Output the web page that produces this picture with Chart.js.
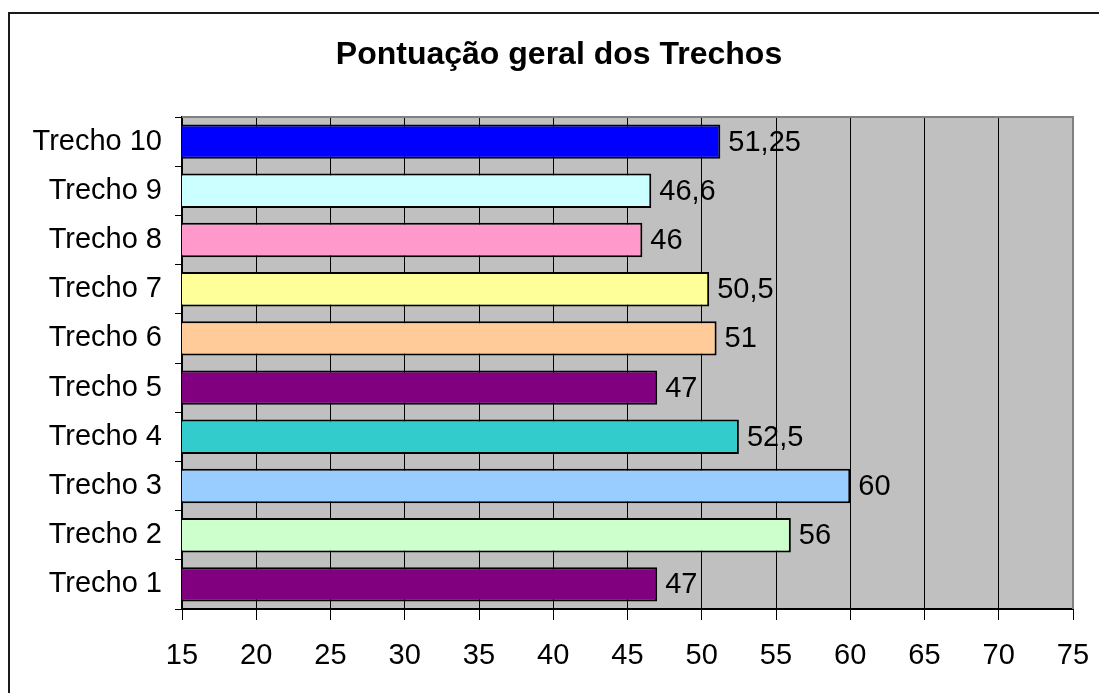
<!DOCTYPE html>
<html>
<head>
<meta charset="utf-8">
<script src="https://cdn.jsdelivr.net/npm/chart.js@4/dist/chart.umd.min.js"></script>
<style>
  html, body { margin: 0; padding: 0; background: #ffffff; }
  #wrap { width: 1099px; height: 693px; }
</style>
</head>
<body>
<div id="wrap"><canvas id="c" width="1099" height="693"></canvas></div>
<script>
// Pontuação por trecho
const categories = ['Trecho 1', 'Trecho 2', 'Trecho 3', 'Trecho 4', 'Trecho 5',
                    'Trecho 6', 'Trecho 7', 'Trecho 8', 'Trecho 9', 'Trecho 10'];
const scores = [47, 56, 60, 52.5, 47, 51, 50.5, 46, 46.6, 51.25];
const barColors = ['#800080', '#CCFFCC', '#99CCFF', '#33CCCC', '#800080',
                   '#FFCC99', '#FFFF99', '#FF99CC', '#CCFFFF', '#0000FF'];
const xTicks = [15, 20, 25, 30, 35, 40, 45, 50, 55, 60, 65, 70, 75];
const titleText = 'Pontuação geral dos Trechos';

const FONT = 'Arial, "Liberation Sans", sans-serif';

// Outer frame, plot background and plot frame
const framePlugin = {
  id: 'frame',
  beforeDraw(chart) {
    const { ctx, chartArea: a } = chart;
    ctx.save();
    ctx.fillStyle = '#ffffff';
    ctx.fillRect(0, 0, chart.width, chart.height);
    ctx.strokeStyle = '#1a1a1a';
    ctx.lineWidth = 2;
    ctx.strokeRect(9, 13, chart.width + 20, chart.height + 20);
    ctx.fillStyle = '#C0C0C0';
    ctx.fillRect(a.left, a.top, a.right - a.left, a.bottom - a.top);
    ctx.restore();
  },
  afterDatasetsDraw(chart) {
    const { ctx, chartArea: a } = chart;
    ctx.save();
    ctx.strokeStyle = '#808080';
    ctx.lineWidth = 2;
    ctx.beginPath();
    ctx.moveTo(a.left, a.top);
    ctx.lineTo(a.right, a.top);
    ctx.lineTo(a.right, a.bottom);
    ctx.stroke();
    ctx.restore();
  },
  afterDraw(chart) {
    const { ctx } = chart;
    ctx.save();
    ctx.fillStyle = '#000000';
    ctx.font = 'bold 32px ' + FONT;
    ctx.textAlign = 'center';
    ctx.textBaseline = 'middle';
    ctx.fillText(titleText, 559, 55);
    ctx.restore();
  }
};

// Value labels at the end of each bar, with decimal comma
const valueLabels = {
  id: 'valueLabels',
  afterDatasetsDraw(chart) {
    const { ctx } = chart;
    const meta = chart.getDatasetMeta(0);
    ctx.save();
    ctx.fillStyle = '#000000';
    ctx.font = '29px ' + FONT;
    ctx.textAlign = 'left';
    ctx.textBaseline = 'middle';
    meta.data.forEach((bar, i) => {
      const txt = String(scores[i]).replace('.', ',');
      ctx.fillText(txt, bar.x + 8, bar.y + 1);
    });
    ctx.restore();
  }
};

new Chart(document.getElementById('c'), {
  type: 'bar',
  data: {
    labels: categories,
    datasets: [{
      data: scores,
      backgroundColor: barColors,
      borderColor: '#000000',
      borderWidth: 2,
      borderSkipped: false,
      categoryPercentage: 1,
      barPercentage: 0.7
    }]
  },
  options: {
    indexAxis: 'y',
    responsive: false,
    animation: false,
    devicePixelRatio: 1,
    layout: { padding: { left: 0, top: 117, right: 26, bottom: 0 } },
    plugins: {
      legend: { display: false },
      title: { display: false },
      tooltip: { enabled: false }
    },
    scales: {
      x: {
        type: 'linear',
        min: 15,
        max: 75,
        afterBuildTicks(scale) { scale.ticks = xTicks.map(v => ({ value: v })); },
        afterFit(scale) {
          scale.height = 84;
          scale.paddingLeft = 0;
          scale.paddingRight = 0;
        },
        grid: {
          color: '#000000',
          lineWidth: 1,
          drawTicks: true,
          tickLength: 11,
          tickColor: '#000000'
        },
        border: { display: true, color: '#000000', width: 2 },
        ticks: {
          color: '#000000',
          font: { family: FONT, size: 29 },
          padding: 19,
          maxRotation: 0,
          autoSkip: false
        }
      },
      y: {
        type: 'category',
        reverse: true,
        afterFit(scale) {
          scale.width = 182;
          scale.paddingTop = 0;
          scale.paddingBottom = 0;
        },
        grid: {
          offset: true,
          drawOnChartArea: false,
          drawTicks: true,
          tickLength: 7,
          tickColor: '#000000'
        },
        border: { display: true, color: '#000000', width: 2 },
        ticks: {
          color: '#000000',
          font: { family: FONT, size: 29 },
          padding: 13,
          autoSkip: false
        }
      }
    }
  },
  plugins: [framePlugin, valueLabels]
});
</script>
</body>
</html>
